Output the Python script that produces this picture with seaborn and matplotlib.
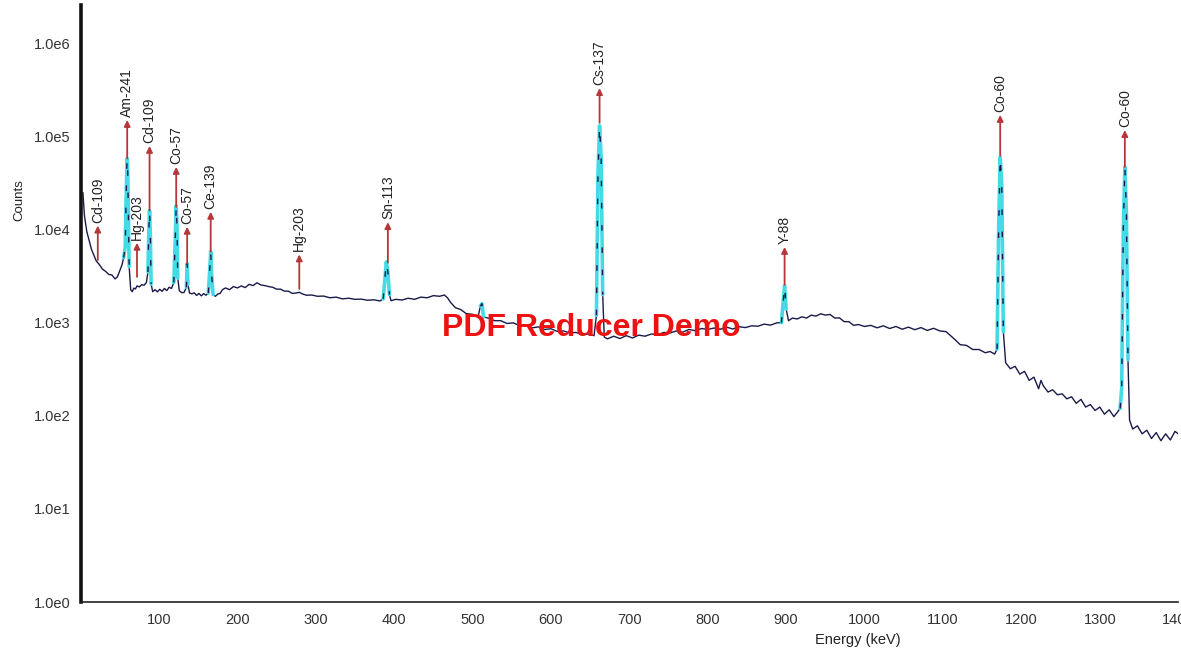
import pandas as pd
import matplotlib
matplotlib.use('Agg')
import matplotlib.pyplot as plt
import matplotlib.ticker as mticker
import seaborn as sns

sns.set_style('white')
plt.rcParams['font.family'] = ['Liberation Sans', 'DejaVu Sans']

# spectrum, piece by piece (keV, counts)
e_low = [3, 5, 8, 11, 14, 17, 20, 24, 28, 32, 36, 40, 44, 47, 50, 53, 55, 57, 58, 59, 59.5, 60, 61, 62]
c_low = [25000, 14000, 9500, 7600, 6100, 5300, 4600, 4200, 3750, 3550, 3300, 3250, 2950, 3100, 3600, 4200,
         5000, 6500, 20000, 45000, 58000, 50000, 15000, 4000]

e_b = [64, 66, 68, 70, 72, 75, 78, 81, 84, 86, 87, 88, 89, 90, 92, 95, 98, 101, 104, 107, 110, 113, 116, 119]
c_b = [2250, 2150, 2350, 2300, 2480, 2420, 2560, 2520, 2700, 3500, 9000, 16000, 9000, 2600, 2150, 2260,
       2140, 2280, 2170, 2330, 2210, 2400, 2330, 2700]

e_c = [121, 122, 123, 124, 126, 129, 132, 135, 136, 137, 139, 142, 145, 148, 151, 154, 157, 160, 163, 165,
       166, 167, 169, 172, 175, 178]
c_c = [9000, 18000, 11000, 3000, 2200, 2100, 2110, 2400, 4300, 2600, 2080, 2040, 2090, 1960, 2060, 1940,
       2050, 1970, 2080, 4000, 5800, 3500, 2000, 1920, 2030, 2060]

e_d = [181, 185, 190, 195, 200, 205, 210, 215, 220, 225, 230, 235, 240, 245, 250, 255, 260, 265, 270, 275,
       279, 282, 288, 295, 302, 310, 318, 326, 334, 342, 350, 358, 366, 374, 382]
c_d = [2260, 2360, 2260, 2440, 2360, 2480, 2380, 2580, 2500, 2680, 2540, 2500, 2440, 2400, 2290, 2290,
       2180, 2180, 2060, 2080, 2120, 2050, 1970, 1980, 1920, 1930, 1850, 1880, 1800, 1830, 1780, 1790,
       1740, 1760, 1710]

e_e = [386, 388, 390, 392, 394, 396, 402, 410, 418, 426, 434, 442, 450, 458, 464, 468, 472, 478, 485, 492,
       500, 507, 510, 512, 514, 520, 528, 536, 544, 552, 560, 568, 576, 584, 592, 600, 608, 616, 624, 632,
       640, 648, 655]
c_e = [1800, 2800, 4500, 3500, 2000, 1720, 1780, 1750, 1830, 1780, 1880, 1850, 1950, 1920, 1980, 1850,
       1650, 1450, 1380, 1250, 1230, 1150, 1500, 1600, 1150, 1120, 1050, 1050, 980, 995, 930, 940, 880,
       900, 845, 860, 805, 815, 775, 785, 745, 755, 725]

e_f = [658, 660, 662, 664, 666, 668, 672, 680, 688, 696, 704, 712, 720, 728, 736, 744, 752, 760, 768, 776,
       784, 792, 800, 808, 816, 824, 832, 840, 848, 856, 864, 872, 880, 888]
c_f = [1200, 40000, 130000, 60000, 2000, 700, 670, 715, 675, 725, 685, 735, 715, 755, 745, 785, 775, 815,
       790, 845, 820, 865, 845, 875, 850, 895, 855, 905, 885, 925, 915, 965, 940, 995]

e_g = [894, 896, 898, 900, 903, 908, 914, 920, 926, 932, 938, 944, 950, 956, 962, 968, 974, 980, 986, 992,
       1000, 1008, 1016, 1024, 1032, 1040, 1048, 1056, 1064, 1072, 1080, 1088, 1096, 1104, 1110, 1116,
       1122, 1130, 1138, 1146, 1154, 1160, 1166]
c_g = [1000, 1600, 2500, 1400, 1050, 1120, 1095, 1155, 1120, 1205, 1175, 1245, 1205, 1225, 1120, 1125,
       1025, 1025, 935, 955, 910, 935, 880, 925, 865, 910, 850, 895, 840, 885, 825, 870, 815, 800, 720,
       650, 580, 570, 515, 515, 475, 490, 460]

e_h = [1169, 1171, 1173, 1175, 1177, 1180, 1186, 1192, 1198, 1204, 1210, 1216, 1222, 1225, 1228, 1234,
       1240, 1246, 1252, 1258, 1264, 1270, 1276, 1282, 1288, 1294, 1300, 1306, 1312, 1318, 1322, 1326,
       1328, 1330, 1332, 1334, 1336, 1338, 1342, 1348, 1354, 1360, 1366, 1372, 1378, 1384, 1390, 1396, 1400]
c_h = [520, 10000, 60000, 30000, 800, 370, 320, 340, 280, 300, 240, 260, 195, 240, 210, 180, 190, 168,
       172, 152, 160, 136, 150, 124, 132, 114, 124, 104, 116, 98, 108, 120, 200, 10000, 47000, 15000,
       400, 90, 72, 78, 64, 70, 57, 66, 54, 64, 55, 68, 64]

energy = e_low + e_b + e_c + e_d + e_e + e_f + e_g + e_h
counts = c_low + c_b + c_c + c_d + c_e + c_f + c_g + c_h

# peak regions drawn in cyan (keV)
roi_lo = [55, 85, 119, 134, 163, 386, 508, 656, 894, 1167, 1323]
roi_hi = [62, 91, 125, 138, 169, 395, 515, 667, 902, 1178, 1337]

# nuclide markers: name, energy, arrow bottom, arrow tip (counts)
nuclides = ['Cd-109', 'Am-241', 'Hg-203', 'Cd-109', 'Co-57', 'Co-57', 'Ce-139', 'Hg-203', 'Sn-113',
            'Cs-137', 'Y-88', 'Co-60', 'Co-60']
nuc_energy = [22, 59.5, 72, 88, 122, 136, 166, 279, 392, 662, 898, 1173, 1332]
arrow_low = [4700, 58000, 3100, 16000, 17500, 4300, 5800, 2300, 4400, 140000, 2550, 62000, 47000]
arrow_high = [11000, 150000, 7200, 79000, 47000, 10700, 15500, 5400, 12000, 330000, 6500, 170000, 117000]

y_ticks = [1, 10, 100, 1000, 10000, 100000, 1000000]
y_labels = ['1.0e0', '1.0e1', '1.0e2', '1.0e3', '1.0e4', '1.0e5', '1.0e6']
x_ticks = [100, 200, 300, 400, 500, 600, 700, 800, 900, 1000, 1100, 1200, 1300, 1400]

df = pd.DataFrame({'Energy': energy, 'Counts': counts})

fig = plt.figure(figsize=(11.81, 6.55), dpi=100)
ax = fig.add_axes([0.0682, 0.0809, 0.9294, 0.911])

sns.lineplot(data=df, x='Energy', y='Counts', ax=ax, color='#1a1a4a', lw=1.0,
             estimator=None, sort=False, zorder=2)

for lo, hi in zip(roi_lo, roi_hi):
    seg = df[(df['Energy'] >= lo) & (df['Energy'] <= hi)]
    ax.plot(seg['Energy'], seg['Counts'], color='#45dbe6', lw=2.6, zorder=3)
    ax.plot(seg['Energy'], seg['Counts'], color='#1a1a4a', lw=1.0, zorder=4, dashes=(4, 12))

for name, e, lo, hi in zip(nuclides, nuc_energy, arrow_low, arrow_high):
    ax.annotate('', xy=(e, hi), xytext=(e, lo),
                arrowprops=dict(arrowstyle='-|>', color='#b5373a', lw=1.3, mutation_scale=9,
                                shrinkA=0, shrinkB=0), zorder=5)
    ax.text(e, hi * 1.08, name, rotation=90, ha='center', va='bottom', fontsize=10, color='#222222')

ax.set_yscale('log')
ax.set_xlim(0, 1400)
ax.set_ylim(1, 10 ** 6.408)
ax.set_yticks(y_ticks)
ax.set_yticklabels(y_labels)
ax.yaxis.set_minor_locator(mticker.NullLocator())
ax.set_xticks(x_ticks)
ax.set_xticklabels([str(t) for t in x_ticks])
ax.tick_params(axis='y', direction='out', length=4, width=1, pad=3, labelsize=10.5, colors='#333333')
ax.tick_params(axis='x', direction='inout', length=6, width=1, pad=5, labelsize=10.5, colors='#333333')
ax.set_xlabel('')
ax.set_ylabel('')

for side in ['top', 'right']:
    ax.spines[side].set_visible(False)
ax.spines['left'].set_linewidth(2.6)
ax.spines['left'].set_color('#111111')
ax.spines['bottom'].set_linewidth(1.2)
ax.spines['bottom'].set_color('#222222')

fig.text(0.0165, 0.695, 'Counts', rotation=90, ha='center', va='center', fontsize=9.5, color='#222222')
fig.text(0.690, 0.023, 'Energy (keV)', ha='left', va='center', fontsize=10.5, color='#222222')
fig.text(0.5005, 0.5, 'PDF Reducer Demo', ha='center', va='center', fontsize=23,
         fontweight='bold', color='#ee1111', zorder=10)

fig.savefig('out.png', dpi=100)
